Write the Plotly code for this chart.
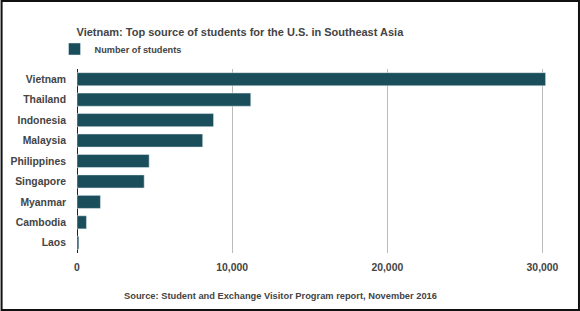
import plotly.graph_objects as go

countries = ["Vietnam", "Thailand", "Indonesia", "Malaysia", "Philippines",
             "Singapore", "Myanmar", "Cambodia", "Laos"]
students = [30200, 11200, 8800, 8100, 4650, 4330, 1510, 610, 120]
x_ticks = [0, 10000, 20000, 30000]
x_tick_labels = ["0", "10,000", "20,000", "30,000"]

W, H = 580, 311
L, R, T, B = 76.5, 22, 69, 58
BAR = "#1a4e5a"
TXT = "#444444"
FONT = "Liberation Sans, Arial, sans-serif"

fig = go.Figure()
fig.add_trace(go.Bar(
    x=students, y=countries, orientation="h", marker_color=BAR,
    name="Number of students", width=0.64, showlegend=True,
))

pw = W - L - R
ph = H - T - B
fig.update_layout(
    width=W, height=H,
    margin=dict(l=L, r=R, t=T, b=B, autoexpand=False),
    paper_bgcolor="white", plot_bgcolor="white",
    font=dict(family=FONT, color=TXT, size=11),
    title=dict(text="<b>Vietnam: Top source of students for the U.S. in Southeast Asia</b>",
               x=L / W, xanchor="left", xref="container", yref="container",
               y=1 - 32 / H, yanchor="middle",
               font=dict(size=11, color="#444444", family=FONT)),
    legend=dict(orientation="h", x=(54 - L) / pw, xanchor="left",
                y=1 + (T - 49) / ph, yanchor="middle",
                font=dict(size=9.2, color=TXT, family=FONT, weight="bold"),
                bgcolor="rgba(0,0,0,0)", itemwidth=30),
    xaxis=dict(range=[0, 31000], tickvals=x_ticks, ticktext=x_tick_labels,
               showgrid=True, gridcolor="#bbbbbb", gridwidth=1,
               zeroline=True, zerolinecolor="#222222", zerolinewidth=1,
               showline=False, ticks="", ticklabelstandoff=7, automargin=False,
               tickfont=dict(size=10.4, color=TXT, family=FONT, weight="bold")),
    yaxis=dict(categoryorder="array", categoryarray=countries[::-1],
               showgrid=False, zeroline=False, showline=False, ticks="",
               ticklabelstandoff=10, automargin=False,
               tickfont=dict(size=10.4, color=TXT, family=FONT, weight="bold")),
    bargap=0.36,
)

fig.add_annotation(text="<b>Source: Student and Exchange Visitor Program report, November 2016</b>",
                   xref="paper", yref="paper", x=(280 - L) / pw, y=-(296 - (T + ph)) / ph,
                   xanchor="center", yanchor="middle", showarrow=False,
                   font=dict(size=9.3, color=TXT, family=FONT))

# outer frame
fig.add_shape(type="rect", xref="paper", yref="paper",
              x0=-(L - 1) / pw, x1=1 + (R - 1) / pw,
              y0=-(B - 1) / ph, y1=1 + (T - 1) / ph,
              line=dict(color="#111111", width=2), fillcolor="rgba(0,0,0,0)", layer="above")

fig.write_html("out.html", config={"displayModeBar": False},
               post_script="document.body.style.margin='0px';document.body.style.overflow='hidden';")
